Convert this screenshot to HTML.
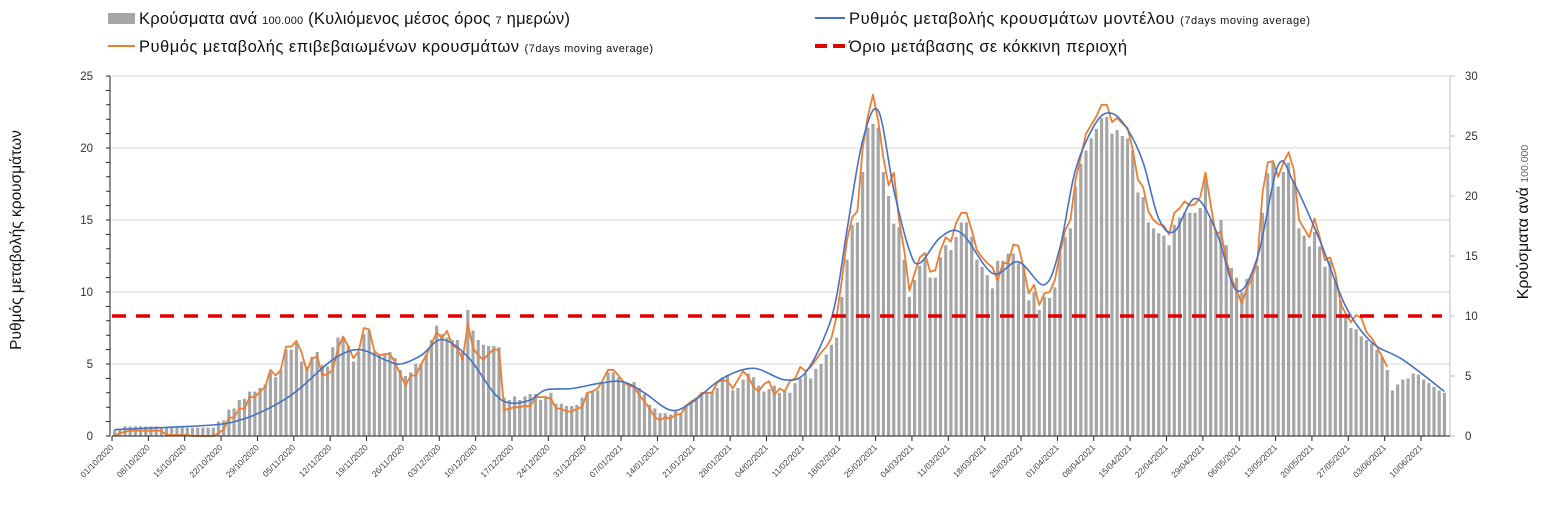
<!DOCTYPE html>
<html><head><meta charset="utf-8">
<style>
html,body{margin:0;padding:0;background:#fff;}
body{width:1543px;height:522px;overflow:hidden;font-family:"Liberation Sans","DejaVu Sans",sans-serif;}
svg text{font-family:"Liberation Sans","DejaVu Sans",sans-serif;}
</style></head>
<body>
<svg id="chart" width="1543" height="522" viewBox="0 0 1543 522" xmlns="http://www.w3.org/2000/svg">
<g id="legend">
  <g>
    <rect x="108" y="13" width="27" height="11" fill="#a6a6a6"/>
    <text x="139" y="24" font-size="16.5" fill="#111" textLength="431">Κρούσματα ανά <tspan font-size="11">100.000</tspan> (Κυλιόμενος μέσος όρος <tspan font-size="11">7</tspan> ημερών)</text>
  </g>
  <g>
    <line x1="108" y1="46" x2="135" y2="46" stroke="#ed7d31" stroke-width="2"/>
    <text x="139" y="52" font-size="16.5" fill="#111" textLength="514">Ρυθμός μεταβολής επιβεβαιωμένων κρουσμάτων <tspan font-size="11">(7days moving average)</tspan></text>
  </g>
  <g>
    <line x1="815" y1="18" x2="845" y2="18" stroke="#4472c4" stroke-width="2"/>
    <text x="849" y="24" font-size="16.5" fill="#111" textLength="461">Ρυθμός μεταβολής κρουσμάτων μοντέλου <tspan font-size="11">(7days moving average)</tspan></text>
  </g>
  <g>
    <line x1="815" y1="46" x2="848" y2="46" stroke="#e00000" stroke-width="4" stroke-dasharray="12,6"/>
    <text x="849" y="52" font-size="16.5" fill="#111" textLength="278">Όριο μετάβασης σε κόκκινη περιοχή</text>
  </g>
</g>
<g id="grid"></g>
<g id="bars"></g>
<g id="lines"></g>
<g id="axes"></g>
<text transform="translate(21,240) rotate(-90)" text-anchor="middle" font-size="15.5" fill="#111">Ρυθμός μεταβολής κρουσμάτων</text>
<text transform="translate(1528,222) rotate(-90)" text-anchor="middle" font-size="16" fill="#111">Κρούσματα ανά <tspan font-size="10.5" fill="#666">100.000</tspan></text>
</svg>
<script>
// ---- data ----
const startDate = [2020, 9, 1]; // 1 Oct 2020 (month 0-based)
const casesPer100k = [
0.5,0.5,0.8,0.8,0.8,0.8,0.8,0.8,0.8,0.7,0.7,0.7,0.7,0.7,0.7,0.7,0.7,0.7,0.7,0.7,
1.2,1.3,2.2,2.3,3.0,3.1,3.7,3.7,4.0,4.3,5.3,4.9,5.5,7.2,7.2,7.7,6.2,5.8,6.6,7.0,
5.9,5.8,7.4,8.2,8.2,7.5,6.2,7.0,8.5,8.8,7.0,6.8,6.8,7.0,6.5,5.5,5.0,5.3,6.0,6.0,
6.8,8.0,9.2,8.5,8.2,8.0,8.0,7.0,10.5,8.8,8.0,7.6,7.5,7.5,7.4,3.2,3.0,3.3,3.0,3.3,
3.5,3.5,3.0,3.2,3.6,2.7,2.7,2.5,2.5,2.6,3.2,3.6,3.8,3.8,4.4,5.3,5.3,4.9,4.5,4.4,
4.5,4.0,3.5,2.6,2.3,1.9,1.9,1.8,2.1,1.9,2.6,2.8,3.2,3.6,3.6,3.7,4.0,4.9,5.1,3.8,
4.0,4.7,5.2,4.9,4.2,3.7,3.9,4.2,3.6,3.8,3.6,4.4,4.8,5.2,4.8,5.6,6.0,6.8,7.6,8.2,
11.6,14.7,17.6,17.8,22.0,25.7,26.0,25.7,22.0,20.0,17.7,17.4,14.7,11.6,13.0,14.2,14.7,13.2,13.2,14.9,
15.9,15.5,16.6,17.8,17.8,16.6,14.7,14.1,13.4,12.3,14.6,14.6,15.2,15.2,14.4,14.1,11.3,12.0,10.5,11.6,
11.5,12.4,15.2,16.6,17.3,20.8,22.7,23.8,24.8,25.6,26.5,26.6,25.2,25.5,25.0,24.8,23.8,20.3,19.9,17.8,
17.3,16.9,16.7,15.9,17.6,18.2,18.6,18.6,18.6,19.0,21.6,18.0,17.0,18.0,15.9,14.0,13.2,12.0,13.1,13.4,
14.2,18.6,21.9,22.8,20.8,22.0,22.8,21.3,17.3,16.7,15.8,17.0,15.8,14.1,14.6,13.0,11.3,10.0,9.0,8.9,
8.3,8.0,7.7,7.2,6.6,5.5,3.8,4.3,4.7,4.8,5.2,5.1,4.7,4.4,4.1,3.8,3.6
];
const observedRate = [
0,0.2,0.3,0.37,0.37,0.37,0.37,0.37,0.37,0.37,0.07,0.07,0.07,0.07,0.07,0,0,0,0,0,
0.2,0.45,1.25,1.3,1.9,1.9,2.7,2.7,3.1,3.4,4.6,4.2,4.6,6.2,6.2,6.6,5.8,4.5,5.4,5.5,
4.2,4.3,4.6,6.1,6.9,6.2,5.4,5.9,7.5,7.4,5.9,5.6,5.7,5.7,5.1,4.3,3.5,4.2,4.2,5.0,
5.6,6.4,7.2,6.8,7.3,6.3,6.1,5.3,7.8,6.1,5.6,5.3,5.7,6.0,6.0,1.8,1.9,2.0,2.0,2.1,
2.05,2.7,2.7,2.7,2.6,1.9,1.9,1.7,1.7,1.9,2.0,3.0,3.1,3.3,3.9,4.6,4.6,4.2,3.75,3.5,
3.4,2.85,2.4,1.9,1.3,1.1,1.3,1.2,1.5,1.5,2.1,2.4,2.6,3.0,3.0,3.0,3.7,3.9,3.8,3.3,
3.9,4.5,4.1,3.4,3.1,3.6,3.8,2.85,3.3,3.1,3.8,4.0,4.8,4.5,4.8,5.3,5.8,6.2,6.8,8.3,
10.8,13.6,15.2,15.6,19.9,22.2,23.7,21.9,19.3,17.4,18.3,15.0,12.9,10.1,11.3,12.4,12.7,11.4,11.5,12.9,
13.8,13.5,14.8,15.5,15.5,14.3,12.9,12.4,12.0,11.7,10.8,12.0,12.0,13.3,13.2,11.7,9.9,10.5,9.1,9.9,
10.0,10.8,12.7,14.3,15.0,17.8,19.4,21.0,21.6,22.2,23.0,23.0,21.8,22.1,21.7,21.4,19.9,17.8,17.3,15.6,
15.0,14.7,14.6,14.0,15.5,15.8,16.3,16.0,16.1,16.6,18.3,16.1,14.0,14.2,12.2,11.0,10.1,9.2,10.3,11.0,
12.2,16.9,19.0,19.1,18.0,19.0,19.7,18.5,15.0,14.4,13.8,15.1,13.8,12.2,12.4,11.3,9.2,8.5,7.9,8.4,
8.2,7.2,6.8,6.2,5.5,4.8
];
const modelDays = [0,10,20,25,29,33,36,42,47,52,55,59,63,68,73,76,80,83,88,94,98,102,107,111,117,123,129,133,137,139,141,144,147,150,153,155,159,163,169,174,179,182,185,189,192,195,198,201,204,208,212,216,220,224,227,232,237,242,248,256];
const modelRate = [0.45,0.6,0.8,1.2,1.8,2.6,3.4,5.3,6.0,5.3,5.0,5.6,6.7,5.5,3.0,2.3,2.5,3.2,3.3,3.7,3.75,3.0,1.8,2.3,4.0,4.7,3.9,4.4,7.2,9.7,14.3,20.5,22.6,17.1,12.9,12.0,13.8,14.1,11.3,12.1,10.5,13.1,18.5,21.8,22.4,21.3,19.0,15.1,14.2,16.5,14.3,10.1,12.4,18.8,17.6,13.6,9.0,6.5,5.3,3.1];
const redThreshold = [8.33];
const leftTicks = [0,5,10,15,20,25];
const rightTicks = [0,5,10,15,20,25,30];

// ---- scales ----
const X0=112, X1=1447, Y0=436, Y1=76;
const N = casesPer100k.length;
const step = (X1-X0)/N;
const xDay = d => X0 + (d+0.5)*step;
const yL = v => Y0 - (v/25)*(Y0-Y1);
const yR = v => Y0 - (v/30)*(Y0-Y1);
const NS="http://www.w3.org/2000/svg";
function mk(tag, attrs, parent){const e=document.createElementNS(NS,tag);for(const k in attrs)e.setAttribute(k,attrs[k]);parent.appendChild(e);return e;}
const gGrid=document.getElementById('grid'), gBars=document.getElementById('bars'), gLines=document.getElementById('lines'), gAx=document.getElementById('axes');

leftTicks.forEach(v=>{ if(v===0) return;
  const l=mk('line',{x1:X0,x2:1450,y1:yL(v),y2:yL(v),stroke:'#d9d9d9','stroke-width':1},gGrid);
  
  
});
casesPer100k.forEach((v,d)=>{
  const r=mk('rect',{x:xDay(d)-1.6,width:3.2,y:yR(v),height:Y0-yR(v),fill:'#a6a6a6'},gBars);
  
  
});
let p=observedRate.map((v,d)=>(d?'L':'M')+xDay(d).toFixed(1)+','+yL(v).toFixed(1)).join('');
const obs=mk('path',{d:p,fill:'none',stroke:'#ed7d31','stroke-width':1.8,'stroke-linejoin':'round'},gLines);


const pts=modelDays.map((d,i)=>[xDay(d),yL(modelRate[i])]);
let md='M'+pts[0][0]+','+pts[0][1];
for(let i=0;i<pts.length-1;i++){
  const p0=pts[Math.max(0,i-1)],p1=pts[i],p2=pts[i+1],p3=pts[Math.min(pts.length-1,i+2)];
  const c1=[p1[0]+(p2[0]-p0[0])/6,p1[1]+(p2[1]-p0[1])/6];
  const c2=[p2[0]-(p3[0]-p1[0])/6,p2[1]-(p3[1]-p1[1])/6];
  md+=`C${c1[0].toFixed(1)},${c1[1].toFixed(1)} ${c2[0].toFixed(1)},${c2[1].toFixed(1)} ${p2[0].toFixed(1)},${p2[1].toFixed(1)}`;
}
const mod=mk('path',{d:md,fill:'none',stroke:'#4472c4','stroke-width':1.6},gLines);


const th=mk('line',{x1:X0,x2:1442,y1:yL(redThreshold[0]),y2:yL(redThreshold[0]),stroke:'#e00000','stroke-width':3.5,'stroke-dasharray':'14,10'},gLines);



const la=mk('line',{x1:110,x2:110,y1:Y1,y2:Y0,stroke:'#222','stroke-width':1},gAx);


for(let v=0;v<=25;v++){
  const t=mk('line',{x1:106,x2:110,y1:yL(v),y2:yL(v),stroke:'#222','stroke-width':1},gAx);
  
  
}
leftTicks.forEach(v=>{
  const t=mk('text',{x:93,y:yL(v)+4,'text-anchor':'end','font-size':11.5,fill:'#333'},gAx);
  t.textContent=v;
  
  
});
const ra=mk('line',{x1:1450,x2:1450,y1:Y1,y2:Y0,stroke:'#bfbfbf','stroke-width':1},gAx);


rightTicks.forEach(v=>{
  const tk=mk('line',{x1:1450,x2:1455,y1:yR(v),y2:yR(v),stroke:'#bfbfbf','stroke-width':1},gAx);
  
  
  const t=mk('text',{x:1465,y:yR(v)+4,'font-size':11.5,fill:'#333'},gAx);
  t.textContent=v;
  
  
});
const xa=mk('line',{x1:X0,x2:1450,y1:Y0,y2:Y0,stroke:'#222','stroke-width':1},gAx);


const pad=n=>String(n).padStart(2,'0');
for(let d=0; d<N; d+=7){
  const x=X0+d*step;
  const tk=mk('line',{x1:x,x2:x,y1:Y0,y2:Y0+5,stroke:'#222','stroke-width':1},gAx);
  
  
  const dt=new Date(startDate[0],startDate[1],startDate[2]+d);
  const lbl=pad(dt.getDate())+'/'+pad(dt.getMonth()+1)+'/'+dt.getFullYear();
  const t=mk('text',{x:x+2,y:Y0+12,'text-anchor':'end','font-size':8.5,fill:'#444',transform:`rotate(-45 ${x+2} ${Y0+12})`},gAx);
  t.textContent=lbl;
  
  
}
</script>
</body></html>
